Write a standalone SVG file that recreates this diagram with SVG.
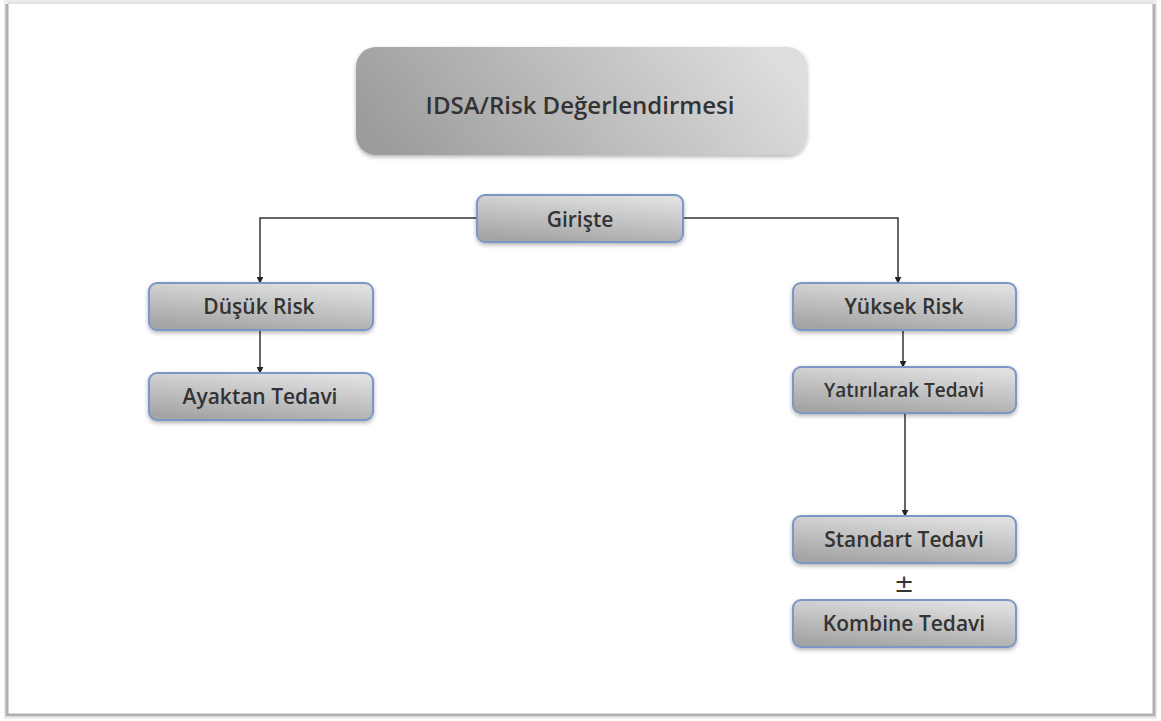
<svg xmlns="http://www.w3.org/2000/svg" width="1161" height="721" viewBox="0 0 1161 721">
<style>
.box{stroke:#7b97c6;stroke-width:2;fill:url(#g2)}
.lbl{font-family:"Open Sans","Liberation Sans",sans-serif;font-size:21px;font-weight:600;fill:#333;text-anchor:middle;dominant-baseline:central}
.con{fill:none;stroke:#333;stroke-width:1.5}
</style>
<defs>
<linearGradient id="g1" x1="0" y1="0.6" x2="1" y2="0.4">
<stop offset="0" stop-color="#9c9c9c"/>
<stop offset="1" stop-color="#dedede"/>
</linearGradient>
<linearGradient id="g2" x1="0.3" y1="1" x2="0.7" y2="0">
<stop offset="0" stop-color="#a4a4a4"/>
<stop offset="1" stop-color="#e0e0e0"/>
</linearGradient>
<filter id="sh" x="-10%" y="-20%" width="120%" height="150%">
<feDropShadow dx="0" dy="2" stdDeviation="2" flood-color="#000" flood-opacity="0.3"/>
</filter>
<marker id="arr" viewBox="0 0 10 10" refX="9" refY="5" markerWidth="7" markerHeight="7" orient="auto" markerUnits="userSpaceOnUse">
<path d="M0,0 L10,5 L0,10 z" fill="#222"/>
</marker>
</defs>
<rect x="0" y="0" width="1161" height="721" fill="#fff"/>
<rect x="5" y="1" width="1151" height="717" fill="none" stroke="#e6e6e6" stroke-width="1.5"/>
<path d="M7,4 V715 H1154 V4" fill="none" stroke="#b0b0b0" stroke-width="3"/>
<path d="M7,3 H1154" fill="none" stroke="#e0e0e0" stroke-width="2"/>
<g id="connectors">
<path class="con" d="M477,218 H260 V283" marker-end="url(#arr)"/>
<path class="con" d="M683,218 H898 V283" marker-end="url(#arr)"/>
<path class="con" d="M260,330 V373" marker-end="url(#arr)"/>
<path class="con" d="M903,330 V367" marker-end="url(#arr)"/>
<path class="con" d="M905,413 V516" marker-end="url(#arr)"/>
</g>
<g id="title">
<rect x="356" y="47" width="451" height="108" rx="20" fill="url(#g1)" filter="url(#sh)"/>
<text class="lbl" x="580" y="104" style="font-size:24px">IDSA/Risk Değerlendirmesi</text>
</g>
<g id="giriste">
<rect class="box" x="477" y="195" width="206" height="47" rx="8" filter="url(#sh)"/>
<text class="lbl" x="580" y="219">Girişte</text>
</g>
<g id="dusuk">
<rect class="box" x="149" y="283" width="224" height="47" rx="8" filter="url(#sh)"/>
<text class="lbl" x="259" y="306">Düşük Risk</text>
</g>
<g id="ayaktan">
<rect class="box" x="149" y="373" width="224" height="47" rx="8" filter="url(#sh)"/>
<text class="lbl" x="260" y="396">Ayaktan Tedavi</text>
</g>
<g id="yuksek">
<rect class="box" x="793" y="283" width="223" height="47" rx="8" filter="url(#sh)"/>
<text class="lbl" x="904" y="306">Yüksek Risk</text>
</g>
<g id="yatirilarak">
<rect class="box" x="793" y="367" width="223" height="46" rx="8" filter="url(#sh)"/>
<text class="lbl" x="904" y="390" style="font-size:19px">Yatırılarak Tedavi</text>
</g>
<g id="standart">
<rect class="box" x="793" y="516" width="223" height="47" rx="8" filter="url(#sh)"/>
<text class="lbl" x="904" y="539">Standart Tedavi</text>
</g>
<text x="904" y="592" font-family="'DejaVu Sans',sans-serif" font-size="24" fill="#333" text-anchor="middle">±</text>
<g id="kombine">
<rect class="box" x="793" y="600" width="223" height="47" rx="8" filter="url(#sh)"/>
<text class="lbl" x="904" y="623">Kombine Tedavi</text>
</g>
</svg>
